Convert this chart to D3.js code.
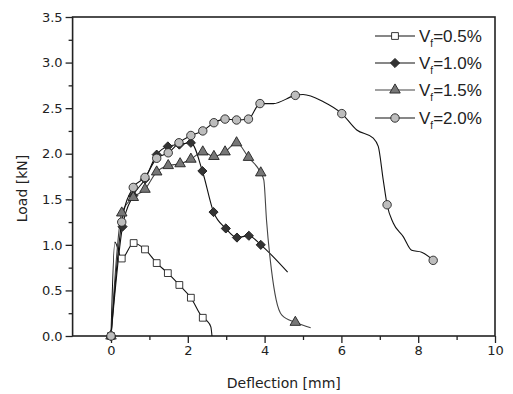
<!DOCTYPE html>
<html lang="en">
<head>
  <meta charset="UTF-8">
  <title>Load vs Deflection</title>
  <script src="https://d3js.org/d3.v7.min.js"></script>
  <style>
    body { margin: 0; background: #fff; }
    text { font-family: "DejaVu Sans", Verdana, sans-serif; fill: #222; }
    .legend text { font-family: "Liberation Sans", Arial, sans-serif; }
  </style>
</head>
<body>
<script>
// --- data: [deflection mm, load kN] ---
const seriesNames = ["0.5%", "1.0%", "1.5%", "2.0%"];

// curve points (line goes through all of them)
const line05 = [[0,0],[0.1,1.03],[0.28,0.85],[0.59,1.02],[0.885,0.95],[1.19,0.80],[1.48,0.69],[1.78,0.56],[2.08,0.42],[2.39,0.20],[2.49,0.17],[2.6,0.1],[2.63,0]];
const line10 = [[0,0],[0.3,1.2],[0.58,1.54],[0.885,1.72],[1.19,1.99],[1.48,2.08],[1.78,2.1],[2.08,2.12],[2.38,1.81],[2.67,1.36],[2.99,1.18],[3.28,1.08],[3.59,1.1],[3.9,1.0],[4.6,0.7]];
const line15 = [[0,0],[0.28,1.35],[0.58,1.52],[0.885,1.61],[1.19,1.80],[1.49,1.87],[1.8,1.89],[2.08,1.94],[2.39,2.02],[2.68,1.97],[2.97,2.02],[3.27,2.12],[3.58,1.96],[3.9,1.79],[3.98,1.71],[4.05,1.27],[4.18,0.72],[4.3,0.4],[4.45,0.23],[4.8,0.15],[5.2,0.09]];
const line20 = [[0,0],[0.28,1.25],[0.58,1.63],[0.885,1.74],[1.19,1.95],[1.49,2.01],[1.77,2.12],[2.08,2.2],[2.39,2.25],[2.68,2.34],[2.97,2.38],[3.27,2.37],[3.58,2.38],[3.88,2.55],[4.23,2.55],[4.8,2.64],[5.0,2.65],[5.53,2.57],[6.01,2.44],[6.4,2.26],[6.83,2.17],[6.96,2.08],[7.09,1.71],[7.19,1.44],[7.35,1.24],[7.61,1.09],[7.83,0.94],[8.09,0.92],[8.39,0.83]];

// which points carry a symbol
const marks05 = [[0,0],[0.28,0.85],[0.59,1.02],[0.885,0.95],[1.19,0.80],[1.48,0.69],[1.78,0.56],[2.08,0.42],[2.39,0.20]];
const marks10 = [[0,0],[0.3,1.2],[0.58,1.54],[0.885,1.72],[1.19,1.99],[1.48,2.08],[1.78,2.1],[2.08,2.12],[2.38,1.81],[2.67,1.36],[2.99,1.18],[3.28,1.08],[3.59,1.1],[3.9,1.0]];
const marks15 = [[0,0],[0.28,1.35],[0.58,1.52],[0.885,1.61],[1.19,1.80],[1.49,1.87],[1.8,1.89],[2.08,1.94],[2.39,2.02],[2.68,1.97],[2.97,2.02],[3.27,2.12],[3.58,1.96],[3.9,1.79],[4.8,0.15]];
const marks20 = [[0,0],[0.28,1.25],[0.58,1.63],[0.885,1.74],[1.19,1.95],[1.49,2.01],[1.77,2.12],[2.08,2.2],[2.39,2.25],[2.68,2.34],[2.97,2.38],[3.27,2.37],[3.58,2.38],[3.88,2.55],[4.8,2.64],[6.01,2.44],[7.19,1.44],[8.39,0.83]];

const xMajor = [0, 2, 4, 6, 8, 10];
const xMinor = [1, 3, 5, 7, 9];
const yMajor = [0, 0.5, 1, 1.5, 2, 2.5, 3, 3.5];
const yMinor = [0.25, 0.75, 1.25, 1.75, 2.25, 2.75, 3.25];

const width = 513, height = 394;
const margin = {top: 17, right: 18, bottom: 58, left: 72.6};

const svg = d3.select("body").append("svg")
  .attr("width", width)
  .attr("height", height);

const x = d3.scaleLinear().domain([-1, 10]).range([margin.left, width - margin.right]);
const y = d3.scaleLinear().domain([0, 3.5]).range([height - margin.bottom, margin.top]);

// axes: major ticks outward with labels, minor ticks shorter
svg.append("g")
  .attr("transform", `translate(0,${y(0)})`)
  .call(d3.axisBottom(x).tickValues(xMajor).tickSize(7).tickPadding(3).tickFormat(d3.format("d")));
svg.append("g")
  .attr("transform", `translate(0,${y(0)})`)
  .call(d3.axisBottom(x).tickValues(xMinor).tickSize(4).tickFormat(""));

svg.append("g")
  .attr("transform", `translate(${x(-1)},0)`)
  .call(d3.axisLeft(y).tickValues(yMajor).tickSize(7).tickPadding(3).tickFormat(d3.format(".1f")));
svg.append("g")
  .attr("transform", `translate(${x(-1)},0)`)
  .call(d3.axisLeft(y).tickValues(yMinor).tickSize(4).tickFormat(""));

svg.selectAll(".domain").remove();
svg.selectAll(".tick line").attr("stroke", "#222").attr("stroke-width", 1.3);
svg.selectAll(".tick text").style("font-size", "13px").attr("fill", "#222");

// frame
svg.append("rect")
  .attr("x", x(-1)).attr("y", y(3.5))
  .attr("width", x(10) - x(-1)).attr("height", y(0) - y(3.5))
  .attr("fill", "none").attr("stroke", "#222").attr("stroke-width", 1.6);

// axis titles
svg.append("text")
  .attr("x", (x(-1) + x(10)) / 2).attr("y", 388)
  .attr("text-anchor", "middle").style("font-size", "14px")
  .text("Deflection [mm]");
svg.append("text")
  .attr("transform", `translate(27,${(y(0) + y(3.5)) / 2 + 12}) rotate(-90)`)
  .attr("text-anchor", "middle").style("font-size", "14px")
  .text("Load [kN]");

// series styles (diamond = square turned 45 degrees)
const styles = [
  {sym: d3.symbolSquare, size: 46, rot: 0, fill: "#fff", lineColor: "#111"},
  {sym: d3.symbolSquare, size: 42, rot: 45, fill: "#333", lineColor: "#111"},
  {sym: d3.symbolTriangle, size: 48, rot: 0, fill: "#777", lineColor: "#444"},
  {sym: d3.symbolCircle, size: 56, rot: 0, fill: "#bdbdbd", lineColor: "#111"}
];
const lines = [line05, line10, line15, line20];
const marks = [marks05, marks10, marks15, marks20];

const lineGen = d3.line()
  .x(d => x(d[0]))
  .y(d => y(d[1]))
  .curve(d3.curveMonotoneX);

const plot = svg.append("g");
lines.forEach((pts, i) => {
  plot.append("path")
    .attr("d", lineGen(pts))
    .attr("fill", "none")
    .attr("stroke", styles[i].lineColor)
    .attr("stroke-width", 1.1);
});
marks.forEach((pts, i) => {
  plot.selectAll(null)
    .data(pts)
    .enter().append("path")
    .attr("transform", d => `translate(${x(d[0])},${y(d[1])}) rotate(${styles[i].rot})`)
    .attr("d", d3.symbol().type(styles[i].sym).size(styles[i].size))
    .attr("fill", styles[i].fill)
    .attr("stroke", "#222")
    .attr("stroke-width", 0.9);
});

// legend
const legend = svg.append("g").attr("class", "legend");
const rowY = [36, 63, 90, 118];
seriesNames.forEach((name, i) => {
  const g = legend.append("g").attr("transform", `translate(375,${rowY[i]})`);
  g.append("line")
    .attr("x1", 0).attr("x2", 40)
    .attr("stroke", styles[i].lineColor).attr("stroke-width", 1.1);
  g.append("path")
    .attr("transform", `translate(20,0) rotate(${styles[i].rot})`)
    .attr("d", d3.symbol().type(styles[i].sym).size(styles[i].size))
    .attr("fill", styles[i].fill)
    .attr("stroke", "#222").attr("stroke-width", 0.9);
  const t = g.append("text")
    .attr("x", 44).attr("y", 6)
    .style("font-size", "17px");
  t.append("tspan").text("V");
  t.append("tspan").attr("dy", 5).style("font-size", "10px").text("f");
  t.append("tspan").attr("dy", -5).text("=" + name);
});
</script>
</body>
</html>
